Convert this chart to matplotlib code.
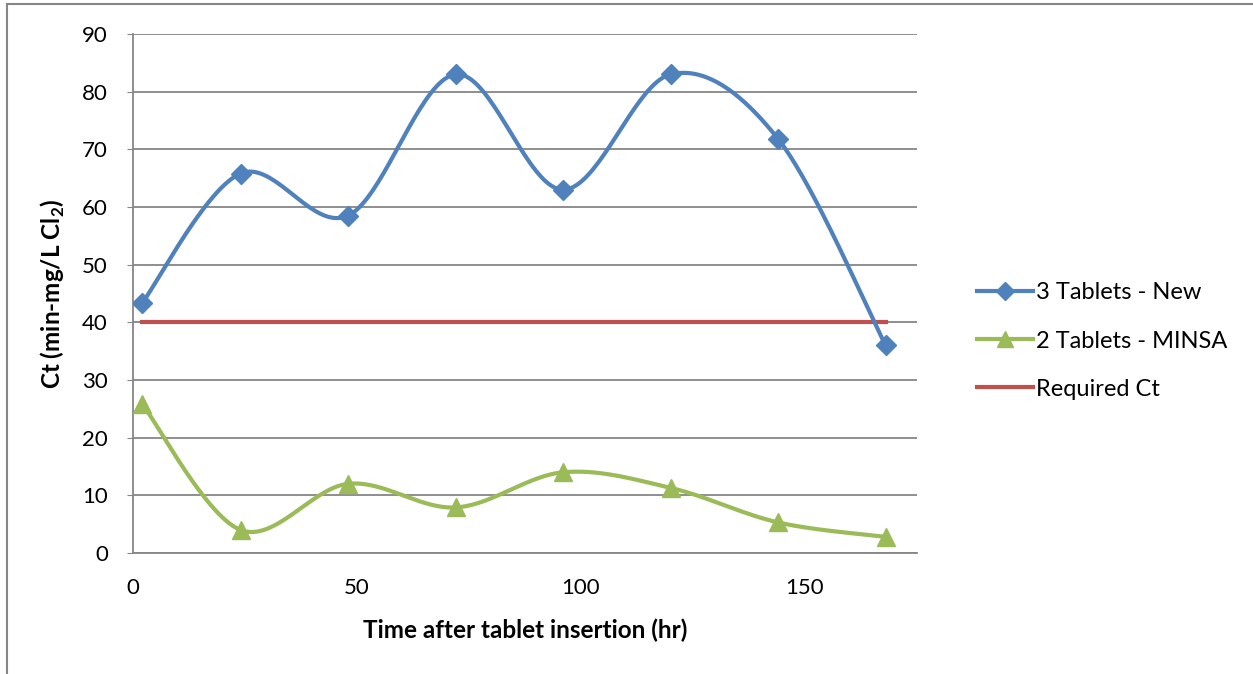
import numpy as np
import matplotlib
matplotlib.use("Agg")
import matplotlib.pyplot as plt

plt.rcParams['font.family'] = ['Lato', 'DejaVu Sans']
plt.rcParams['mathtext.fontset'] = 'custom'
plt.rcParams['mathtext.rm'] = 'Lato'
plt.rcParams['mathtext.bf'] = 'Lato:bold'

hours = [2, 24, 48, 72, 96, 120, 144, 168]
new_3tab = [43.3, 65.8, 58.5, 83.0, 63.0, 83.0, 71.8, 36.0]
minsa_2tab = [25.9, 4.0, 12.0, 7.9, 14.0, 11.3, 5.3, 2.8]
required_ct = 40

blue = '#4F81BD'
green = '#9BBB59'
red = '#C0504D'
grid_col = '#868686'


def smooth(x, y, n=40):
    # excel-style smoothed line: catmull-rom through the points as cubic beziers
    x = np.asarray(x, float)
    y = np.asarray(y, float)
    px = np.concatenate([[x[0]], x, [x[-1]]])
    py = np.concatenate([[y[0]], y, [y[-1]]])
    xs, ys = [], []
    t = np.linspace(0, 1, n)
    for i in range(1, len(px) - 2):
        p0 = np.array([px[i], py[i]])
        p3 = np.array([px[i + 1], py[i + 1]])
        c1 = p0 + (np.array([px[i + 1], py[i + 1]]) - np.array([px[i - 1], py[i - 1]])) / 6
        c2 = p3 - (np.array([px[i + 2], py[i + 2]]) - np.array([px[i], py[i]])) / 6
        b = ((1 - t) ** 3)[:, None] * p0 + (3 * (1 - t) ** 2 * t)[:, None] * c1 \
            + (3 * (1 - t) * t ** 2)[:, None] * c2 + (t ** 3)[:, None] * p3
        xs.extend(b[:, 0])
        ys.extend(b[:, 1])
    return xs, ys


fig = plt.figure(figsize=(12.53, 6.74), dpi=100)
ax = fig.add_axes([133 / 1253, 1 - 553 / 674, (917 - 133) / 1253, (553 - 34) / 674])

# outer chart border (only top and left visible in the reference)
fig.add_artist(plt.Line2D([7 / 1253, 1], [1 - 4 / 674, 1 - 4 / 674], color=grid_col, lw=1.5,
                          transform=fig.transFigure))
fig.add_artist(plt.Line2D([7 / 1253, 7 / 1253], [0, 1 - 4 / 674], color=grid_col, lw=1.5,
                          transform=fig.transFigure))

sx, sy = smooth(hours, new_3tab)
ax.plot(sx, sy, color=blue, lw=3, solid_capstyle='round', zorder=4)
ax.plot(hours, new_3tab, ls='none', marker='D', ms=10.5, color=blue, zorder=5)

sx, sy = smooth(hours, minsa_2tab)
ax.plot(sx, sy, color=green, lw=3, solid_capstyle='round', zorder=4)
ax.plot(hours, minsa_2tab, ls='none', marker='^', ms=13, color=green, zorder=5)

ax.plot([hours[0], hours[-1]], [required_ct, required_ct], color=red, lw=3, zorder=3)

ax.set_xlim(0, 175)
ax.set_ylim(0, 90)
ax.set_xticks([0, 50, 100, 150])
ax.set_yticks(range(0, 91, 10))
ax.yaxis.grid(True, color=grid_col, lw=1.3)
ax.set_axisbelow(True)
for s in ['top', 'right']:
    ax.spines[s].set_visible(False)
for s in ['left', 'bottom']:
    ax.spines[s].set_color(grid_col)
    ax.spines[s].set_linewidth(1.3)
ax.tick_params(axis='y', length=4, color=grid_col, labelsize=16, pad=14)
ax.tick_params(axis='x', length=0, labelsize=16, pad=18)

ax.set_xlabel('Time after tablet insertion (hr)', fontsize=17.5, fontweight='bold', labelpad=15)
ax.set_ylabel(r'Ct (min-mg/L Cl$_\mathbf{2}$)', fontsize=17.5, fontweight='bold')
ax.yaxis.set_label_coords((67 - 133) / 784, 0.5)

handles = [
    plt.Line2D([], [], color=blue, lw=3, marker='D', ms=9),
    plt.Line2D([], [], color=green, lw=3, marker='^', ms=11),
    plt.Line2D([], [], color=red, lw=3),
]
labels = ['3 Tablets - New', '2 Tablets - MINSA', 'Required Ct']
fig.legend(handles, labels, loc='center left', bbox_to_anchor=(965 / 1253, 1 - 341 / 674),
           frameon=False, fontsize=17, handlelength=2.4, handletextpad=0.1, labelspacing=1.15,
           borderpad=0)

fig.savefig('out.png', dpi=100)
